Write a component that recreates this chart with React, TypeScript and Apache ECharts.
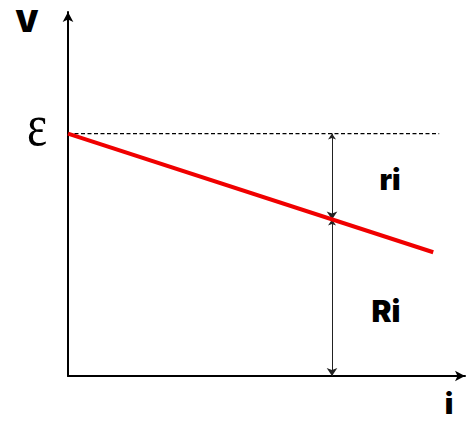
import { useEffect, useRef } from "react";
import * as echarts from "echarts";

// Terminal voltage V against current i for a source with EMF ε and internal resistance r
const current = [0, 9.2];
const terminalVoltage = [6.66, 3.4];
const emf = 6.66;
const emfGuideEnd = 9.35;
const probeCurrent = 6.65;
const probeVoltage = 4.3;
const axisMax = 10;

export default function App() {
  const ref = useRef<HTMLDivElement>(null);

  useEffect(() => {
    const chart = echarts.init(ref.current!, null, { renderer: "svg" });
    const heavy = { fontFamily: "Inter", fontWeight: 900, fill: "#000" };
    const axisStyle = {
      type: "value",
      min: 0,
      max: axisMax,
      axisLine: {
        onZero: true,
        lineStyle: { color: "#000", width: 2 },
        symbol: ["none", "arrow"],
        symbolSize: [8, 10],
      },
      axisTick: { show: false },
      axisLabel: { show: false },
      splitLine: { show: false },
    };
    chart.setOption({
      animation: false,
      grid: { left: 68, right: 1, top: 12, bottom: 45 },
      xAxis: { ...axisStyle },
      yAxis: { ...axisStyle },
      series: [
        {
          type: "line",
          data: [
            [0, emf],
            [emfGuideEnd, emf],
          ],
          symbol: "none",
          lineStyle: { color: "#000", width: 1.2, type: [4, 2.5] },
          z: 1,
        },
        {
          type: "line",
          data: current.map((c, k) => [c, terminalVoltage[k]]),
          symbol: "none",
          lineStyle: { color: "#f00000", width: 4 },
          z: 3,
        },
        {
          type: "lines",
          coordinateSystem: "cartesian2d",
          symbol: ["arrow", "arrow"],
          symbolSize: [6, 8],
          lineStyle: { color: "#222", width: 1, opacity: 1 },
          data: [
            { coords: [[probeCurrent, emf], [probeCurrent, probeVoltage]] },
            { coords: [[probeCurrent, probeVoltage], [probeCurrent, 0]] },
          ],
          z: 2,
        },
      ],
      graphic: [
        { type: "text", x: 27, y: 21, style: { ...heavy, text: "V", fontSize: 30, textAlign: "center", textVerticalAlign: "middle" } },
        { type: "text", x: 449, y: 403, style: { ...heavy, text: "i", fontSize: 29, textAlign: "center", textVerticalAlign: "middle" } },
        { type: "text", x: 390, y: 179, style: { ...heavy, text: "ri", fontSize: 29, textAlign: "center", textVerticalAlign: "middle" } },
        { type: "text", x: 386, y: 311, style: { ...heavy, text: "Ri", fontSize: 30, textAlign: "center", textVerticalAlign: "middle" } },
        {
          type: "text",
          x: 37,
          y: 125,
          scaleX: 0.8,
          style: { text: "ε", fontFamily: "Liberation Serif", fontSize: 60, fill: "#000", textAlign: "center", textVerticalAlign: "middle" },
        },
      ],
    });
    return () => chart.dispose();
  }, []);

  return <div ref={ref} style={{ position: "fixed", left: 0, top: 0, width: 466, height: 421, background: "#fff" }} />;
}
